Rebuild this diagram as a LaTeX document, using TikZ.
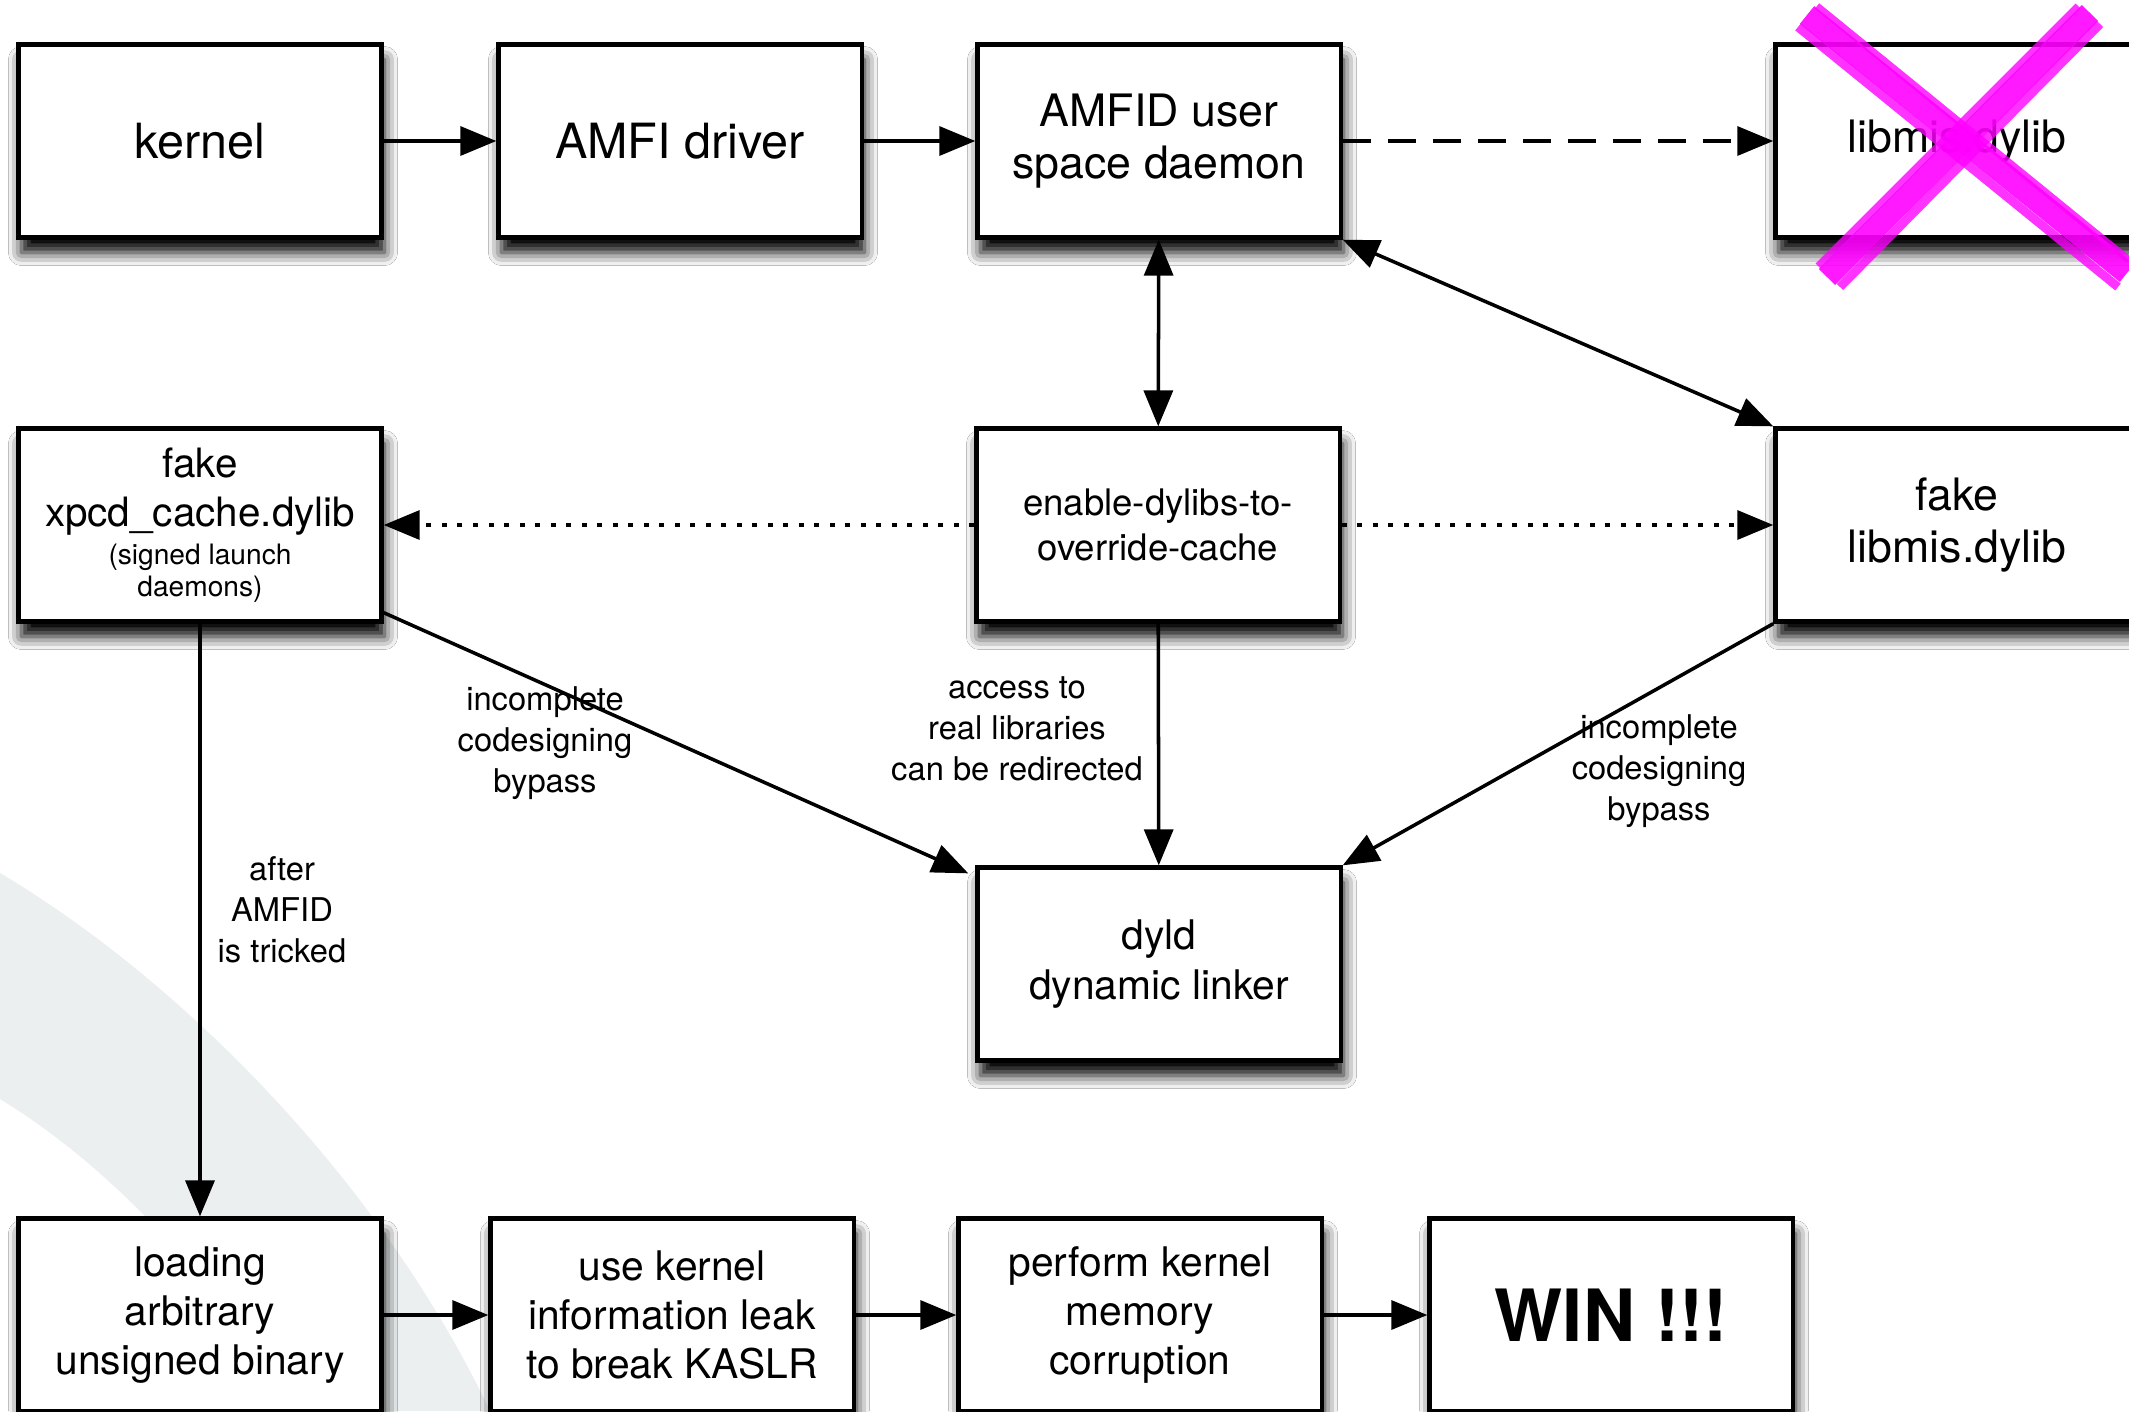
\documentclass[tikz,border=0pt]{standalone}
\usepackage{fontspec}
\setmainfont{TeX Gyre Heros}
\usetikzlibrary{arrows.meta, positioning, shadows.blur}

\definecolor{bandgray}{RGB}{236,239,240}
\definecolor{xmagenta}{RGB}{255,0,255}

\newcommand{\bigtxt}{\fontsize{13.8}{15.5}\selectfont}
\newcommand{\midtxt}{\fontsize{12.7}{15}\selectfont}
\newcommand{\boxtxt}{\fontsize{11.6}{14}\selectfont}
\newcommand{\smalltxt}{\fontsize{10.4}{12.8}\selectfont}
\newcommand{\lbltxt}{\fontsize{9.3}{11.6}\selectfont}
\newcommand{\tinytxt}{\fontsize{8}{8.9}\selectfont}

\tikzset{
  blk/.style={draw, line width=1.2pt, fill=white, minimum width=3.63cm, minimum height=1.93cm,
              align=center, font=\boxtxt,
              blur shadow={shadow xshift=0.03cm, shadow yshift=-0.15cm, shadow blur radius=0.13cm, shadow opacity=100}},
  lbl/.style={align=center, font=\lbltxt, inner sep=0pt},
  dashedarrow/.style={dash pattern=on 0.28cm off 0.17cm},
  dottedarrow/.style={dash pattern=on 0.05cm off 0.105cm}
}

\begin{document}
\begin{tikzpicture}[->, >={Triangle[length=0.36cm,width=0.29cm]}, line width=1pt, x=0.01cm, y=-0.01cm]

   % Canvas
      \fill[white] (0,0) rectangle (2129,1411);
      \useasboundingbox (0,0) rectangle (2129,1411);
      \fill[bandgray] (0,873) .. controls (180,980) and (380,1180) .. (490,1411) -- (300,1411)
                      .. controls (200,1260) and (100,1160) .. (0,1099) -- cycle;

   % Nodes
      \node[blk, font=\bigtxt]  (kernel)  at (200,141)   {kernel};
      \node[blk, font=\bigtxt]  (amfi)    at (680,141)   {AMFI driver};
      \node[blk, font=\midtxt]  (amfid)   at (1159,141)  {AMFID user\\space daemon};
      \node[blk, font=\midtxt]  (libmis)  at (1957,141)  {libmis.dylib};
      \node[blk, font=\fontsize{11.5}{13.9}\selectfont]
                                (xpcd)    at (200,525)   {fake\\xpcd\_cache.dylib\\[-3pt]{\tinytxt (signed launch}\\[-5pt]{\tinytxt daemons)}};
      \node[blk, font=\smalltxt] (enable) at (1158,525)  {enable-dylibs-to-\\override-cache};
      \node[blk, font=\midtxt]  (fakelib) at (1957,525)  {fake\\libmis.dylib};
      \node[blk]                (dyld)    at (1159,964)  {dyld\\dynamic linker};
      \node[blk]                (loading) at (200,1315)  {loading\\arbitrary\\unsigned binary};
      \node[blk]                (kaslr)   at (672,1315)  {use kernel\\information leak\\to break KASLR};
      \node[blk]                (corrupt) at (1140,1315) {perform kernel\\memory\\corruption};
      \node[blk, font=\fontsize{20.5}{24}\selectfont\bfseries]
                                (win)     at (1611,1315) {WIN !!!};

   % Labels
      \node[lbl] (lblxpcd)  at (545,743)  {incomplete\\codesigning\\bypass};
      \node[lbl] (lblredir) at (1017,729) {access to\\real libraries\\can be redirected};
      \node[lbl] (lbllib)   at (1659,771) {incomplete\\codesigning\\bypass};
      \node[lbl] (lbltrick) at (282,910)  {after\\AMFID\\is tricked};

   % Paths
      \path (kernel) edge (amfi);
      \path (amfi)   edge (amfid);
      \path (amfid)  edge [dashedarrow] (libmis)
                     edge [<->]         (enable);
      \path (amfid.south east) edge [<->] (fakelib.north west);
      \path (enable) edge [dottedarrow] (xpcd)
                     edge [dottedarrow] (fakelib)
                     edge               (dyld);
      \path ([yshift=0.11cm]xpcd.south east) edge ([xshift=-0.07cm,yshift=-0.08cm]dyld.north west);
      \path (fakelib.south west) edge (dyld.north east);
      \path (xpcd)    edge (loading);
      \path (loading) edge (kaslr);
      \path (kaslr)   edge (corrupt);
      \path (corrupt) edge (win);

   % Crossed out
      \draw[-, xmagenta, line width=6.5pt, opacity=0.9] (1807,15) -- (2127,273);
      \draw[-, xmagenta, line width=2.5pt, opacity=0.8] (1798,27) -- (2118,287);
      \draw[-, xmagenta, line width=2pt, opacity=0.8] (1817,6) -- (2129,260);
      \draw[-, xmagenta, line width=6.5pt, opacity=0.9] (2090,13) -- (1827,277);
      \draw[-, xmagenta, line width=2.5pt, opacity=0.8] (2100,24) -- (1840,287);
      \draw[-, xmagenta, line width=2pt, opacity=0.8] (2078,6) -- (1818,266);
   \end{tikzpicture}
\end{document}
